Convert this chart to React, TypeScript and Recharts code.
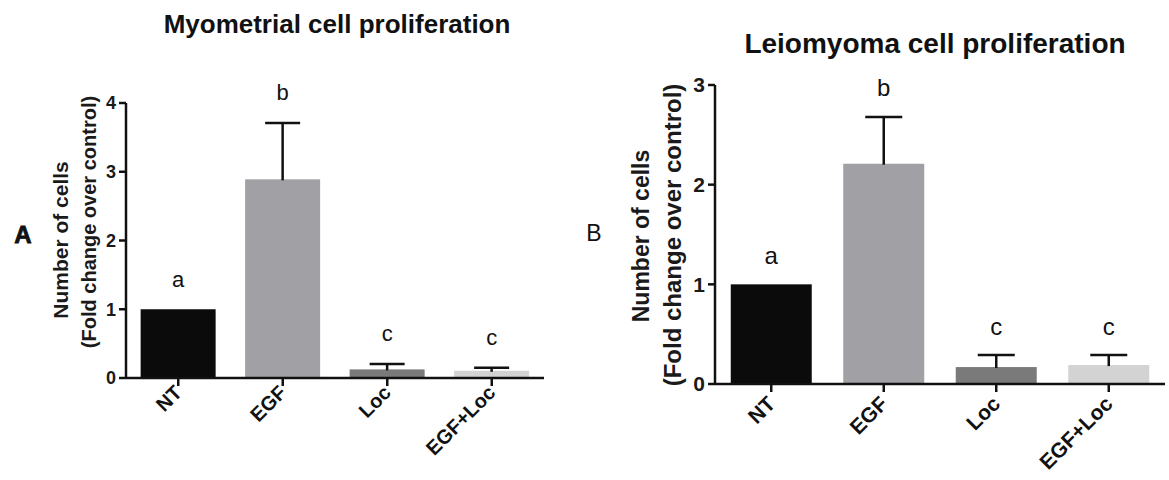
import React from "react";
import { BarChart, Bar, XAxis, YAxis, Cell } from "recharts";

const groups = ["NT", "EGF", "Loc", "EGF+Loc"];
const letters = ["a", "b", "c", "c"];
const barColors = ["#0b0b0b", "#a1a1a5", "#7a7a7a", "#d3d3d3"];

// panel A - myometrial cells
const myoMean = [1.0, 2.89, 0.125, 0.105];
const myoSem = [0, 0.82, 0.08, 0.045];
const myoTicks = [0, 1, 2, 3, 4];

// panel B - leiomyoma cells
const leioMean = [1.0, 2.21, 0.17, 0.19];
const leioSem = [0, 0.47, 0.12, 0.1];
const leioTicks = [0, 1, 2, 3];

const FONT = "'Liberation Sans', Arial, sans-serif";

const myoData = groups.map((g, i) => ({ name: g, value: myoMean[i], err: myoSem[i], letter: letters[i] }));
const leioData = groups.map((g, i) => ({ name: g, value: leioMean[i], err: leioSem[i], letter: letters[i] }));

function makeBarShape(capW: number, letterSize: number, letterGap: number) {
  return (props: any) => {
    const { x, y, width, height, fill, payload } = props;
    const cx = x + width / 2;
    const pxPerUnit = payload.value ? height / payload.value : 0;
    const errTop = y - payload.err * pxPerUnit;
    const top = Math.min(y, errTop);
    return (
      <g>
        <rect x={x} y={y} width={width} height={height} fill={fill} />
        {payload.err > 0 && (
          <g stroke="#111" strokeWidth={2.5}>
            <line x1={cx} x2={cx} y1={y + 1} y2={errTop} />
            <line x1={cx - capW / 2} x2={cx + capW / 2} y1={errTop} y2={errTop} />
          </g>
        )}
        <text
          x={cx}
          y={top - letterGap}
          textAnchor="middle"
          dominantBaseline="central"
          fontFamily={FONT}
          fontSize={letterSize}
          fill="#111"
        >
          {payload.letter}
        </text>
      </g>
    );
  };
}

function makeXTick(size: number) {
  return (props: any) => {
    const { x, y, payload } = props;
    return (
      <g transform={`translate(${x},${y})`}>
        <text
          transform="rotate(-45)"
          textAnchor="end"
          dy="0.35em"
          fontFamily={FONT}
          fontWeight="bold"
          fontSize={size}
          fill="#111"
        >
          {payload.value}
        </text>
      </g>
    );
  };
}

function Panel(props: {
  data: any[];
  ticks: number[];
  max: number;
  width: number;
  margin: any;
  tickFont: number;
  labelFont: number;
  labelMargin: number;
  capW: number;
  letterSize: number;
  letterGap: number;
}) {
  const { data, ticks, max, width, margin, tickFont, labelFont, labelMargin, capW, letterSize, letterGap } = props;
  return (
    <BarChart width={width} height={480} data={data} margin={margin} barCategoryGap="14%">
      <XAxis
        dataKey="name"
        height={80}
        axisLine={{ stroke: "#111", strokeWidth: 2.5 }}
        tickLine={{ stroke: "#111", strokeWidth: 2.5 }}
        tickSize={8}
        tickMargin={labelMargin}
        interval={0}
        tick={makeXTick(labelFont)}
      />
      <YAxis
        width={40}
        domain={[0, max]}
        ticks={ticks}
        allowDecimals={false}
        axisLine={{ stroke: "#111", strokeWidth: 2.5 }}
        tickLine={{ stroke: "#111", strokeWidth: 2.5 }}
        tickSize={7}
        tickMargin={3}
        tick={{ fill: "#1a1a1a", fontSize: tickFont, fontWeight: "bold", fontFamily: FONT }}
      />
      <Bar dataKey="value" isAnimationActive={false} shape={makeBarShape(capW, letterSize, letterGap)}>
        {data.map((d, i) => (
          <Cell key={d.name} fill={barColors[i]} />
        ))}
      </Bar>
    </BarChart>
  );
}

export default function App() {
  return (
    <div style={{ position: "absolute", left: 0, top: 0, width: 1169, height: 480, background: "#fff" }}>
      <div style={{ position: "absolute", left: 0, top: 0 }}>
        <Panel
          data={myoData}
          ticks={myoTicks}
          max={4}
          width={580}
          margin={{ top: 103, right: 36, left: 86, bottom: 22 }}
          tickFont={18}
          labelFont={20}
          labelMargin={3}
          capW={35}
          letterSize={22}
          letterGap={30}
        />
      </div>
      <div style={{ position: "absolute", left: 580, top: 0 }}>
        <Panel
          data={leioData}
          ticks={leioTicks}
          max={3}
          width={589}
          margin={{ top: 85, right: 4, left: 95, bottom: 16 }}
          tickFont={21}
          labelFont={21}
          labelMargin={8}
          capW={37}
          letterSize={24}
          letterGap={29}
        />
      </div>
      <svg
        width={1169}
        height={480}
        style={{ position: "absolute", left: 0, top: 0, pointerEvents: "none" }}
        fontFamily={FONT}
      >
        <text x={337} y={24} textAnchor="middle" dominantBaseline="central" fontSize={26} fontWeight="bold" fill="#111">
          Myometrial cell proliferation
        </text>
        <text x={935} y={43} textAnchor="middle" dominantBaseline="central" fontSize={28} fontWeight="bold" fill="#111">
          Leiomyoma cell proliferation
        </text>
        <text x={23} y={234} textAnchor="middle" dominantBaseline="central" fontSize={24} fontWeight="bold" fill="#111" stroke="#111" strokeWidth={0.8}>
          A
        </text>
        <text x={594} y={233} textAnchor="middle" dominantBaseline="central" fontSize={23} fill="#111">
          B
        </text>
        <text transform="translate(60,240) rotate(-90)" textAnchor="middle" dominantBaseline="central" fontSize={21} fontWeight="bold" fill="#1a1a1a">
          Number of cells
        </text>
        <text transform="translate(89,222) rotate(-90)" textAnchor="middle" dominantBaseline="central" fontSize={20} fontWeight="bold" fill="#1a1a1a">
          (Fold change over control)
        </text>
        <text transform="translate(641,236) rotate(-90)" textAnchor="middle" dominantBaseline="central" fontSize={23} fontWeight="bold" fill="#1a1a1a">
          Number of cells
        </text>
        <text transform="translate(672,235) rotate(-90)" textAnchor="middle" dominantBaseline="central" fontSize={24} fontWeight="bold" fill="#1a1a1a">
          (Fold change over control)
        </text>
      </svg>
    </div>
  );
}
